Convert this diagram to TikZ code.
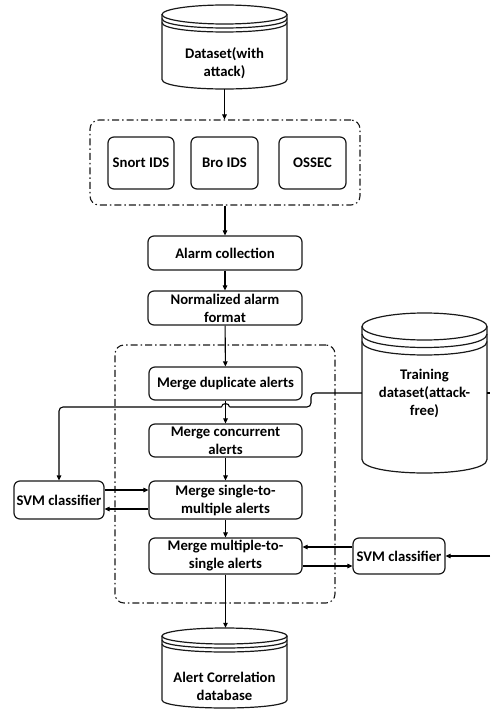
\documentclass[tikz,border=0pt]{standalone}
\usepackage{fontspec}
\setmainfont{Carlito}
\usetikzlibrary{arrows.meta}

% cylinder outline: x0, y0 (top), x1, y1 (bottom), half height of the ellipse, gap of the extra rims
\newcommand\dbcyl[6]{%
  \pgfmathsetmacro\cylcx{(#1+#3)/2}%
  \pgfmathsetmacro\cylrx{(#3-#1)/2}%
  \pgfmathsetmacro\cylk{4/3*#5}%
  \draw[dbline] (\cylcx,#2+#5) ellipse[x radius=\cylrx, y radius=#5];
  \draw[dbline] (#1,#2+#5+#6) .. controls (#1,#2+#5+#6+\cylk) and (#3,#2+#5+#6+\cylk) .. (#3,#2+#5+#6);
  \draw[dbline] (#1,#2+#5+2*#6) .. controls (#1,#2+#5+2*#6+\cylk) and (#3,#2+#5+2*#6+\cylk) .. (#3,#2+#5+2*#6);
  \draw[dbline] (#1,#2+#5) -- (#1,#4-#5) .. controls (#1,#4-#5+\cylk) and (#3,#4-#5+\cylk) .. (#3,#4-#5) -- (#3,#2+#5);
}

\tikzset{
  txt/.style={font=\fontsize{14.7}{18}\selectfont\bfseries, align=center, inner sep=0pt},
  box/.style={txt, draw=black!90, line width=1.2pt, rounded corners=6pt},
  grp/.style={draw=black!90, line width=1.1pt, rounded corners=9pt,
    dash pattern=on 7pt off 3pt on 1.5pt off 3pt, inner sep=0pt},
  dbline/.style={draw=black!90, line width=1.2pt},
  cylbox/.style={inner sep=0pt},
  ln/.style={draw=black, line width=1.1pt},
  arr/.style={ln, -{Triangle[length=5pt,width=4.5pt]}},
}

\begin{document}
\begin{tikzpicture}[x=1pt, y=-1pt]
  \useasboundingbox (0,0) rectangle (490,711);

  % databases
  \dbcyl{162}{5}{287}{89}{9.5}{4}
  \node[cylbox, minimum width=125pt, minimum height=84pt] (ds) at (224.5,47) {};
  \node[txt] (dst) at (224.5,63) {Dataset(with\\attack)};

  \dbcyl{362}{313}{487}{473}{13.5}{7.5}
  \node[cylbox, minimum width=125pt, minimum height=160pt] (tr) at (424.5,393) {};
  \node[txt] (trt) at (424.5,393) {Training\\dataset(attack-\\free)};

  \dbcyl{162}{628}{287}{708}{8}{4}
  \node[cylbox, minimum width=125pt, minimum height=80pt] (db) at (224.5,668) {};
  \node[txt] (dbt) at (224.5,686) {Alert Correlation\\database};

  % detectors
  \node[grp, minimum width=270pt, minimum height=85pt] (grp1) at (225,162.5) {};
  \node[box, minimum width=66pt, minimum height=52pt] (snort) at (141,163) {Snort IDS};
  \node[box, minimum width=67pt, minimum height=52pt] (bro) at (224.5,163) {Bro IDS};
  \node[box, minimum width=67pt, minimum height=52pt] (ossec) at (312.5,163) {OSSEC};

  % preprocessing
  \node[box, minimum width=154pt, minimum height=34pt] (ac) at (225,253) {Alarm collection};
  \node[box, minimum width=154pt, minimum height=34pt] (naf) at (225,308) {Normalized alarm\\format};

  % correlation stages
  \node[grp, minimum width=220pt, minimum height=258pt] (grp2) at (225,474) {};
  \node[box, minimum width=153pt, minimum height=33pt] (md) at (225.5,383.5) {Merge duplicate alerts};
  \node[box, minimum width=153pt, minimum height=33pt] (mc) at (225.5,440.5) {Merge concurrent\\alerts};
  \node[box, minimum width=153pt, minimum height=38pt] (ms) at (225.5,500) {Merge single-to-\\multiple alerts};
  \node[box, minimum width=153pt, minimum height=36pt] (mm) at (225.5,556) {Merge multiple-to-\\single alerts};

  % classifiers
  \node[box, minimum width=90pt, minimum height=38pt] (svml) at (59,500) {SVM classifier};
  \node[box, minimum width=92pt, minimum height=36pt] (svmr) at (399,556) {SVM classifier};

  % main flow
  \draw[arr] (ds.south) -- (ds.south |- grp1.north);
  \draw[arr] (grp1.south) -- (ac.north);
  \draw[arr] (ac) -- (naf);
  \draw[arr] (naf) -- (md);
  \draw[arr] (md) -- (mc);
  \draw[arr] (mc) -- (ms);
  \draw[arr] (ms) -- (mm);
  \draw[arr] (mm.south) -- (mm.south |- db.north);

  % training data feed, hopping over the main flow
  \coordinate (hopr) at (229.5,407);
  \coordinate (hopl) at (221.5,407);
  \draw[ln, rounded corners=4pt] (tr.west) -- (311,393) -- (311,407) -- (hopr);
  \draw[ln] (hopr) .. controls (229.5,402.5) and (221.5,402.5) .. (hopl);
  \draw[arr, rounded corners=4pt] (hopl) -- (svml.north |- hopl) -- (svml.north);
  \coordinate (trout) at (490,393);
  \draw[ln] (tr.east) -- (trout);

  % classifier exchanges
  \draw[arr] (svml.east |- 0,490) -- (ms.west |- 0,490);
  \draw[arr] (ms.west |- 0,509) -- (svml.east |- 0,509);
  \draw[arr] (svmr.west |- 0,547) -- (mm.east |- 0,547);
  \draw[arr] (mm.east |- 0,566) -- (svmr.west |- 0,566);
  \coordinate (rin) at (490,556);
  \draw[arr] (rin) -- (svmr.east);
\end{tikzpicture}
\end{document}
